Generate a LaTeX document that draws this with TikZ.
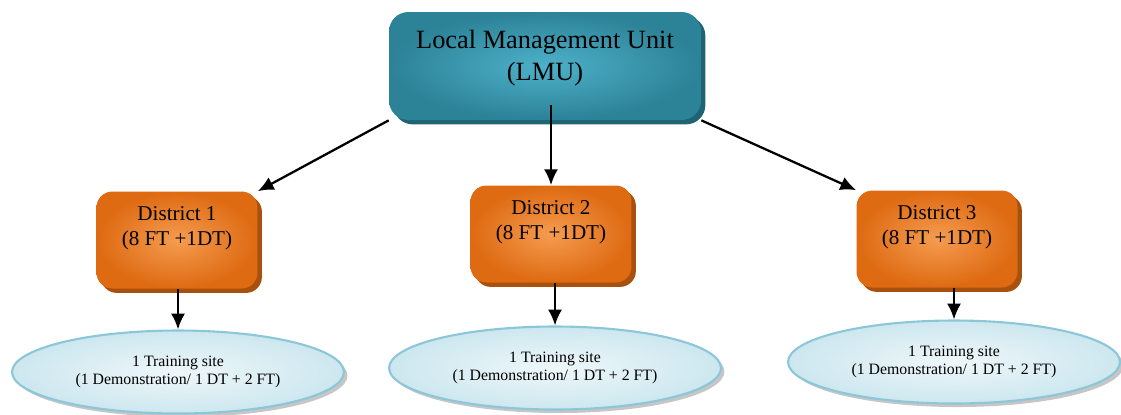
\documentclass[tikz,border=0pt]{standalone}
\usepackage{fontspec}
\setmainfont{Liberation Serif}
\usepackage{tikz}
\usetikzlibrary{arrows.meta}
\usetikzlibrary{shapes.geometric}
\usetikzlibrary{shadows}
\usetikzlibrary{positioning}
\definecolor{tuerkis}{HTML}{2C8297}
\definecolor{tuerkishell}{HTML}{4DB1C9}
\definecolor{tuerkisdunkel}{HTML}{1E6473}
\definecolor{orangeton}{HTML}{DE6A12}
\definecolor{orangehell}{HTML}{F59C50}
\definecolor{orangedunkel}{HTML}{A9500F}
\definecolor{eisblau}{HTML}{CDE7EF}
\definecolor{eisblauhell}{HTML}{EEF7FA}
\definecolor{eisrand}{HTML}{8CC7D9}
\tikzset{
  Leitung/.style={rectangle, rounded corners=11pt, align=center,
    minimum width=6.24cm, minimum height=2.16cm,
    font=\fontsize{15}{18}\selectfont,
    shading=radial, inner color=tuerkishell, outer color=tuerkis,
    drop shadow={opacity=1, fill=tuerkisdunkel, shadow xshift=2.5pt, shadow yshift=-2.5pt}}, % Leitungseinheit
  Bezirk/.style={rectangle, rounded corners=9pt, align=center,
    minimum width=3.22cm, minimum height=1.94cm,
    font=\fontsize{12}{14.5}\selectfont,
    shading=radial, inner color=orangehell, outer color=orangeton,
    drop shadow={opacity=1, fill=orangedunkel, shadow xshift=2.5pt, shadow yshift=-2.5pt}}, % Bezirke
  Standort/.style={ellipse, draw=eisrand, line width=1.2pt, align=center,
    minimum width=6.64cm, minimum height=1.66cm,
    font=\fontsize{9}{10.5}\selectfont,
    shading=radial, inner color=eisblauhell, outer color=eisblau,
    drop shadow={opacity=.45, fill=gray, shadow xshift=2pt, shadow yshift=-2pt}}, % Schulungsorte
  Pfeil/.style={line width=1.3pt, ->} % für Pfeile
}

\begin{document}
\begin{tikzpicture}[x=0.02cm, y=-0.02cm,
>={Latex[length=9pt,width=8pt]} % Voreinstellung für Pfeilspitzen
]
\useasboundingbox (0,0) rectangle (1121,414);

%Knoten
\node[Leitung] (LMU) at (545,66) {Local Management Unit\\(LMU)\\[-.2cm]};

\node[Bezirk] (D1) at (177,240) {District 1\\(8 FT +1DT)\\[.05cm]};
\node[Bezirk] (D2) at (551,234) {District 2\\(8 FT +1DT)\\[.05cm]};
\node[Bezirk] (D3) at (937,239) {District 3\\(8 FT +1DT)\\[.05cm]};

\node[Standort] (S1) at (178,372) {1 Training site\\(1 Demonstration/ 1 DT + 2 FT)};
\node[Standort] (S2) at (555,368) {1 Training site\\(1 Demonstration/ 1 DT + 2 FT)};
\node[Standort] (S3) at (954,362) {1 Training site\\(1 Demonstration/ 1 DT + 2 FT)};

%Pfeile
\draw[Pfeil] (LMU.south west) -- (D1.north east);
\draw[Pfeil] ([yshift=.3cm]LMU.south -| D2.north) -- (D2.north);
\draw[Pfeil] (LMU.south east) -- (D3.north west);

\draw[Pfeil] (S1.north |- D1.south) -- (S1.north);
\draw[Pfeil] (S2.north |- D2.south) -- (S2.north);
\draw[Pfeil] (S3.north |- D3.south) -- (S3.north);

\end{tikzpicture}
\end{document}
